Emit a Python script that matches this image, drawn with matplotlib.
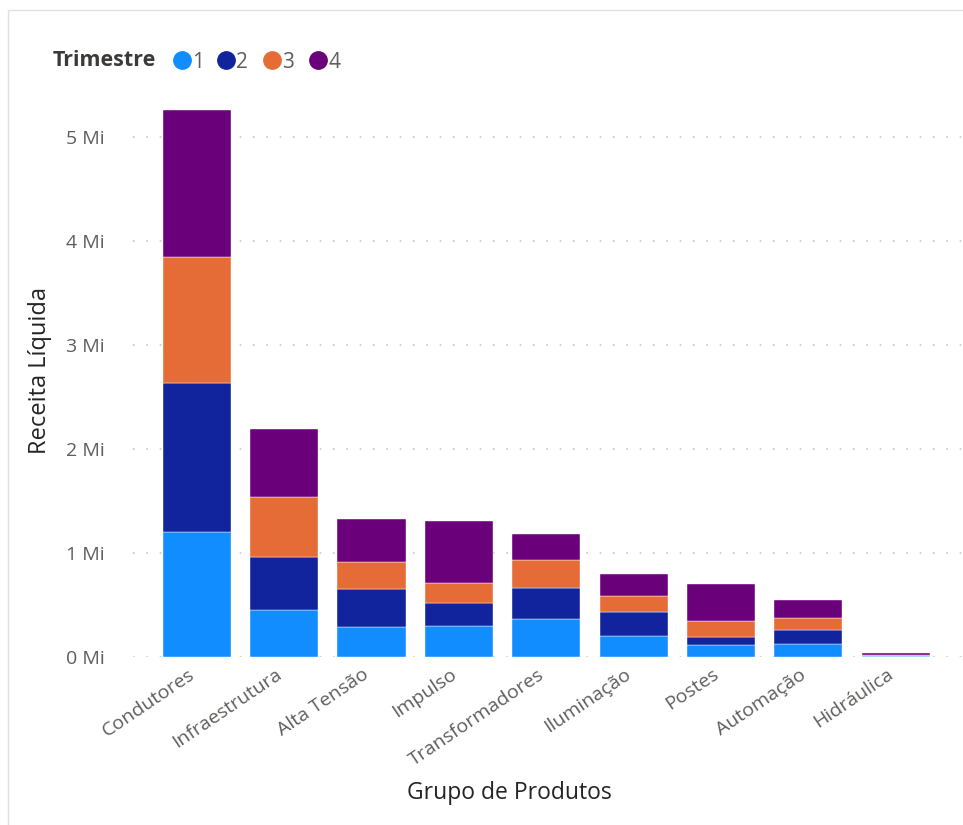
import matplotlib
matplotlib.use("Agg")
import matplotlib.pyplot as plt
import matplotlib.transforms as mtransforms
from matplotlib.lines import Line2D
from matplotlib.patches import Rectangle
import numpy as np

# Receita liquida por grupo de produtos e trimestre (em milhoes)
grupos = ["Condutores", "Infraestrutura", "Alta Tensão", "Impulso", "Transformadores",
          "Iluminação", "Postes", "Automação", "Hidráulica"]
trimestres = ["1", "2", "3", "4"]
q1 = [1.20, 0.45, 0.29, 0.30, 0.37, 0.20, 0.12, 0.13, 0.006]
q2 = [1.44, 0.51, 0.36, 0.22, 0.29, 0.23, 0.07, 0.13, 0.004]
q3 = [1.21, 0.58, 0.26, 0.19, 0.27, 0.16, 0.16, 0.12, 0.006]
q4 = [1.41, 0.65, 0.42, 0.60, 0.25, 0.21, 0.35, 0.17, 0.018]
cores = ["#118DFF", "#12239E", "#E66C37", "#6B007B"]
yticks = [0, 1, 2, 3, 4, 5]

plt.rcParams['font.family'] = ['Open Sans', 'DejaVu Sans']

fig = plt.figure(figsize=(9.63, 8.25), dpi=100)
ax = fig.add_axes([0.138, 0.2036, 0.862, 0.6752])

x = np.arange(len(grupos))
base = np.zeros(len(grupos))
for serie, cor in zip([q1, q2, q3, q4], cores):
    ax.bar(x, serie, bottom=base, width=0.78, color=cor, edgecolor="white",
           linewidth=0.3, zorder=3)
    base = base + np.array(serie)

ax.set_xlim(-0.73, 8.77)
ax.set_ylim(0, 5.36)
ax.set_yticks(yticks)
ax.set_yticklabels([f"{v} Mi" for v in yticks], color="#605E5C", fontsize=14)
ax.set_xticks(x)
ax.set_xticklabels(grupos, rotation=34, ha="right", rotation_mode="anchor",
                   color="#605E5C", fontsize=14)
ax.tick_params(axis="both", length=0)
ax.tick_params(axis="y", pad=20)
ax.tick_params(axis="x", pad=6)

# desloca os rotulos do eixo x um pouco para a esquerda
desloc = mtransforms.ScaledTranslation(-9 / 100, 0, fig.dpi_scale_trans)
for lbl in ax.get_xticklabels():
    lbl.set_transform(lbl.get_transform() + desloc)

ax.grid(axis="y", color="#C8C8C8", linestyle=(0, (1, 7)), linewidth=1.2, zorder=0)
ax.set_axisbelow(True)
for s in ax.spines.values():
    s.set_visible(False)

ax.set_ylabel("Receita Líquida", fontsize=17, color="#252423")
ax.yaxis.label.set_va("center")
ax.yaxis.set_label_coords(-0.112, 0.515)
ax.set_xlabel("Grupo de Produtos", fontsize=16.5, color="#252423")
ax.xaxis.set_label_coords(0.454, -0.222)

# legenda manual
fig.text(53 / 963, 1 - 60 / 825, "Trimestre", fontsize=15.5, fontweight="bold",
         color="#3B3A39", va="center", ha="left")
xs = [182, 226, 272, 318]
for xi, rot, cor in zip(xs, trimestres, cores):
    fig.add_artist(Line2D([xi / 963], [1 - 60 / 825], marker="o", markersize=12.5,
                          color=cor, transform=fig.transFigure))
    fig.text((xi + 10) / 963, 1 - 63 / 825, rot, fontsize=15, color="#605E5C",
             va="center", ha="left")

# moldura clara
fig.add_artist(Rectangle((8 / 963, -0.01), 1.0, 1 - 10 / 825 + 0.01,
                         transform=fig.transFigure, fill=False,
                         edgecolor="#E1E1E1", linewidth=1))

fig.savefig("out.png", dpi=100)
